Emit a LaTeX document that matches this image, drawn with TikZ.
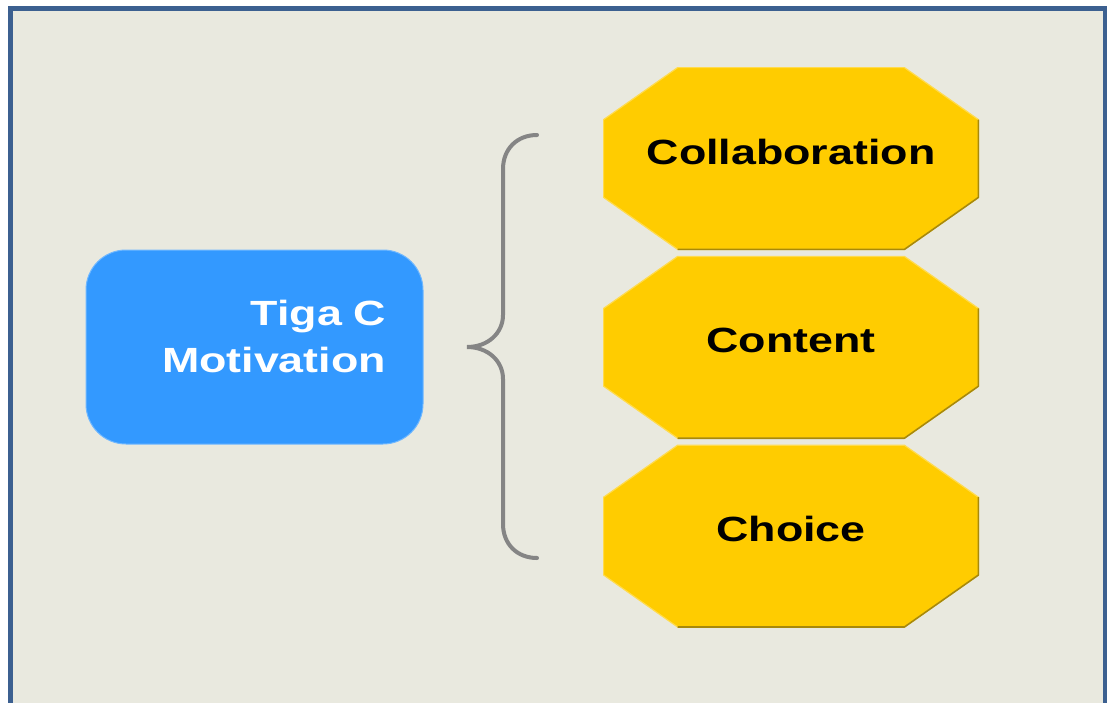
\documentclass[tikz,border=0pt]{standalone}
\usepackage{fontspec}
\newfontfamily\lblfont[FakeStretch=1.28]{Liberation Sans}
\usetikzlibrary{positioning, backgrounds}
\definecolor{paper}{HTML}{E9E9DF}
\definecolor{frameblue}{HTML}{3C6090}
\definecolor{motblue}{HTML}{3399FF}
\definecolor{gold}{HTML}{FFCC00}
\definecolor{goldlight}{HTML}{FFDB4D}
\definecolor{goldedge}{HTML}{A8890A}
\definecolor{bracegray}{HTML}{858585}
\tikzset{
  octo/.style={rectangle, minimum width=187pt, minimum height=90.5pt,
    inner sep=0pt, text height=12.5pt, text depth=7pt,
    font=\lblfont\bfseries\fontsize{17.5}{21}\selectfont},
  motbox/.style={rectangle, rounded corners=20pt, fill=motblue, draw=motblue!70!white, line width=0.5pt,
    minimum width=168.5pt, minimum height=97pt, inner xsep=18.5pt, inner ysep=0pt,
    text width=131.5pt, align=right, text depth=34.5pt, text=white,
    font=\lblfont\bfseries\fontsize{17.5}{23.5}\selectfont}
}
\begin{document}
\begin{tikzpicture}[x=0.5pt, y=-0.5pt]
  \useasboundingbox (0,0) rectangle (1107,702);
  % left box
  \node[motbox] (motiv) at (254.5,347) {Tiga C\\Motivation};
  % the three Cs
  \node[octo] (collab) at (791,158.5) {Collaboration};
  \node[octo, below=3.5pt of collab] (content) {Content};
  \node[octo, below=3.5pt of content] (choice) {Choice};
  % brace
  \draw[bracegray, line width=2pt, line cap=round]
    (537,135) .. controls (517,135) and (503,149) .. (503,169) -- (503,315)
    .. controls (503,333) and (488,347) .. (467,347)
    .. controls (488,347) and (503,361) .. (503,379) -- (503,524)
    .. controls (503,544) and (517,558) .. (537,558);
  \begin{scope}[on background layer]
    \fill[white] (0,0) rectangle (1107,702);
    \draw[frameblue, line width=2.5pt, fill=paper] (10.5,8.5) rectangle (1105.5,740);
    \foreach \n in {collab, content, choice} {
      \fill[gold, draw=goldlight, line width=0.6pt, line join=round]
        ([xshift=37pt]\n.north west) -- ([xshift=-37pt]\n.north east)
        -- ([yshift=-26pt]\n.north east) -- ([yshift=26pt]\n.south east)
        -- ([xshift=-37pt]\n.south east) -- ([xshift=37pt]\n.south west)
        -- ([yshift=26pt]\n.south west) -- ([yshift=-26pt]\n.north west) -- cycle;
      \draw[goldedge, line width=0.8pt, line join=round]
        ([yshift=-26pt]\n.north east) -- ([yshift=26pt]\n.south east)
        -- ([xshift=-37pt]\n.south east) -- ([xshift=37pt]\n.south west);
    }
  \end{scope}
\end{tikzpicture}
\end{document}
